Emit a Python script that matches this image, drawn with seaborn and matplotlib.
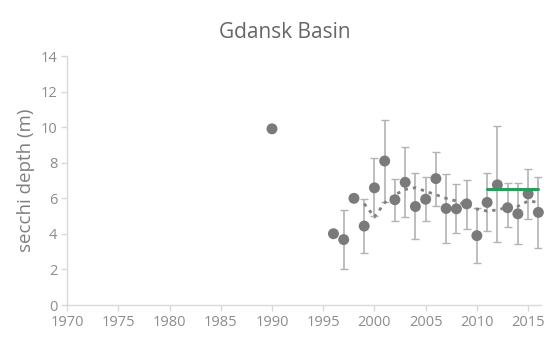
import matplotlib
matplotlib.use("Agg")
import matplotlib.pyplot as plt
import seaborn as sns
import pandas as pd
import numpy as np

# Annual mean secchi depth with standard deviation
years = [1990, 1996, 1997, 1998, 1999, 2000, 2001, 2002, 2003, 2004, 2005,
         2006, 2007, 2008, 2009, 2010, 2011, 2012, 2013, 2014, 2015, 2016]
depth = [9.91, 4.01, 3.68, 6.00, 4.44, 6.59, 8.10, 5.92, 6.90, 5.54, 5.95,
         7.11, 5.43, 5.41, 5.69, 3.90, 5.77, 6.76, 5.47, 5.13, 6.25, 5.21]
err_low = [np.nan, np.nan, 2.02, np.nan, 2.93, 5.00, 5.78, 4.70, 4.94, 3.71, 4.70,
           5.58, 3.49, 4.05, 4.29, 2.35, 4.14, 3.53, 4.39, 3.43, 4.82, 3.23]
err_high = [np.nan, np.nan, 5.37, np.nan, 5.94, 8.25, 10.40, 7.07, 8.86, 7.45, 7.22,
            8.58, 7.37, 6.81, 7.04, 5.47, 7.41, 10.06, 6.85, 6.85, 7.67, 7.22]

# Moving-average trend
trend_years = [1999, 2000, 2001, 2002, 2003, 2004, 2005, 2006, 2007, 2008,
               2009, 2010, 2011, 2012, 2013, 2014, 2015, 2016]
trend_vals = [5.70, 4.95, 5.75, 6.20, 6.50, 6.60, 6.40, 6.20, 6.00, 5.85,
              5.60, 5.40, 5.28, 5.35, 5.50, 5.55, 5.85, 5.78]

# Target level for the assessment period
target_years = [2011, 2016]
target_vals = [6.5, 6.5]

x_ticks = [1970, 1975, 1980, 1985, 1990, 1995, 2000, 2005, 2010, 2015]
y_ticks = [0, 2, 4, 6, 8, 10, 12, 14]

df = pd.DataFrame({"year": years, "depth": depth, "lo": err_low, "hi": err_high})
trend = pd.DataFrame({"year": trend_years, "depth": trend_vals})
target = pd.DataFrame({"year": target_years, "depth": target_vals})

sns.set_theme(style="white")
plt.rcParams["font.family"] = ["Open Sans", "DejaVu Sans"]

fig = plt.figure(figsize=(5.49, 3.38), dpi=100)
ax = fig.add_axes([0.1222, 0.0976, 0.8640, 0.7364])

axis_col = "#d9d9d9"
text_col = "#8c8c8c"
pt_col = "#7a7a7a"
bar_col = "#b3b3b3"

# error bars
eb = df.dropna(subset=["lo", "hi"])
ax.errorbar(eb["year"], eb["depth"],
            yerr=[eb["depth"] - eb["lo"], eb["hi"] - eb["depth"]],
            fmt="none", ecolor=bar_col, elinewidth=1.2, capsize=3,
            capthick=1.0, zorder=2)

sns.lineplot(data=trend, x="year", y="depth", ax=ax, color="#808080",
             linestyle=(0, (1.2, 1.8)), linewidth=2.0, zorder=3)

sns.scatterplot(data=df, x="year", y="depth", ax=ax, color=pt_col, s=62,
                edgecolor="none", zorder=4, clip_on=False)

sns.lineplot(data=target, x="year", y="depth", ax=ax, color="#2a9d5c",
             linewidth=2.2, zorder=5)

ax.set_xlim(1970, 2016.3)
ax.set_ylim(0, 14)
ax.set_xticks(x_ticks)
ax.set_yticks(y_ticks)
ax.set_xlabel("")
ax.set_ylabel("secchi depth (m)", fontsize=13.5, color="#7f7f7f", labelpad=4)
fig.text(0.519, 0.888, "Gdansk Basin", fontsize=15, color="#666666",
         ha="center", va="baseline")

for s in ["top", "right"]:
    ax.spines[s].set_visible(False)
for s in ["left", "bottom"]:
    ax.spines[s].set_color(axis_col)
    ax.spines[s].set_linewidth(1.0)
ax.tick_params(axis="both", which="major", length=4, width=1.0,
               color=axis_col, labelcolor=text_col, labelsize=10.5,
               direction="out", left=True, bottom=True, pad=3)

fig.savefig("out.png", dpi=100)
